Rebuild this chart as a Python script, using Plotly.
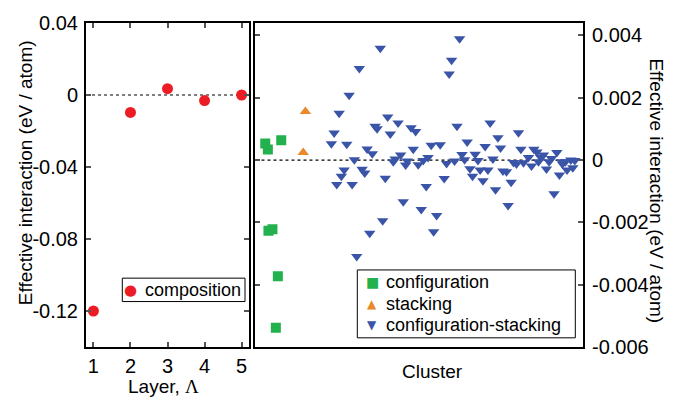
import plotly.graph_objects as go

# ---- Left panel: composition vs layer ----
layers = [1, 2, 3, 4, 5]
composition = [-0.12, -0.0097, 0.0035, -0.0031, 0.0]

# ---- Right panel: cluster interactions (eV / atom) ----
config_x = [4.9, 6.2, 12.9, 6.5, 8.5, 11.2, 10.2]
config_y = [0.00053, 0.00034, 0.00064, -0.00227, -0.00222, -0.00373, -0.00538]

stack_x = [25.0, 23.9]
stack_y = [0.00156, 0.00024]

cs_x = [102.2, 62.5, 52.0, 98.2, 97.0, 46.9, 41.9, 66.2, 71.4, 117.5,
        59.9, 60.9, 77.9, 80.2, 100.9, 39.4, 131.7, 67.5, 121.4, 38.0,
        45.7, 106.0, 92.5, 88.0, 115.0, 55.9, 79.0, 122.7, 132.9, 139.4,
        140.9, 150.9, 58.5, 72.7, 103.4, 110.0, 144.2, 86.4, 49.5, 69.9,
        69.0, 84.0, 76.0, 99.7, 104.7, 111.4, 118.9, 136.7, 142.9, 148.2,
        95.7, 75.2, 81.5, 129.2, 130.7, 134.2, 141.7, 147.0, 153.5, 155.2,
        157.9, 159.9, 138.2, 153.7, 44.4, 53.4, 54.7, 107.4, 112.5, 116.4,
        123.9, 125.7, 145.7, 156.0, 158.9, 43.0, 65.0, 94.5, 108.7, 152.2,
        40.7, 48.4, 85.5, 113.9, 128.0, 120.2, 149.5, 74.0, 83.0, 90.7,
        63.7, 57.2, 89.2, 50.7, 126.5]
cs_y = [3.892, 3.587, 2.940, 3.206, 2.762, 2.083, 1.502, 1.384, 1.194, 1.194,
        1.089, 1.003, 1.035, 0.921, 1.089, 0.867, 0.876, 0.835, 0.717, 0.527,
        0.508, 0.581, 0.495, 0.476, 0.432, 0.359, 0.349, 0.390, 0.349, 0.349,
        0.263, 0.241, 0.200, 0.159, 0.178, 0.190, 0.159, 0.083, 0.010, 0.032,
        -0.054, -0.013, -0.032, -0.032, 0.010, -0.013, 0.032, 0.083, 0.083, 0.051,
        -0.108, -0.159, -0.149, -0.076, -0.127, -0.086, -0.054, -0.054, -0.054, -0.054,
        0.000, -0.013, -0.190, -0.127, -0.317, -0.298, -0.413, -0.276, -0.317, -0.317,
        -0.349, -0.371, -0.286, -0.317, -0.244, -0.521, -0.584, -0.594, -0.521, -0.476,
        -0.784, -0.784, -0.848, -0.667, -0.711, -0.952, -1.079, -1.340, -1.587, -1.778,
        -1.949, -2.349, -2.298, -3.092, -1.460]
cs_y = [v * 1e-3 for v in cs_y]

left_ticks = [0.04, 0.0, -0.04, -0.08, -0.12]
left_tick_text = ["0.04", "0", "-0.04", "-0.08", "-0.12"]
right_ticks = [0.004, 0.002, 0.0, -0.002, -0.004, -0.006]
right_tick_text = ["0.004", "0.002", "0", "-0.002", "-0.004", "-0.006"]

FONT = "Liberation Sans, Arial, Helvetica, sans-serif"
GLYPH_FONT = "DejaVu Sans"
RED = "#ec1c24"
GREEN = "#22b14c"
ORANGE = "#e8892a"
BLUE = "#3a55a8"

fig = go.Figure()
fig.add_trace(go.Scatter(x=layers, y=composition, mode="markers", name="composition",
                         marker=dict(color=RED, size=11, symbol="circle"),
                         xaxis="x", yaxis="y", showlegend=False))
fig.add_trace(go.Scatter(x=config_x, y=config_y, mode="markers", name="configuration",
                         marker=dict(color=GREEN, size=10, symbol="square"),
                         xaxis="x2", yaxis="y2", showlegend=False))
fig.add_trace(go.Scatter(x=stack_x, y=stack_y, mode="markers", name="stacking",
                         marker=dict(color=ORANGE, size=10, symbol="triangle-up"),
                         xaxis="x2", yaxis="y2", showlegend=False))
fig.add_trace(go.Scatter(x=cs_x, y=cs_y, mode="markers", name="configuration-stacking",
                         marker=dict(color=BLUE, size=10, symbol="triangle-down"),
                         xaxis="x2", yaxis="y2", showlegend=False))

axis_common = dict(showline=True, linecolor="black", linewidth=2, showgrid=False,
                   zeroline=False, ticks="inside", ticklen=5, tickcolor="#555",
                   tickwidth=1.5, tickfont=dict(family=FONT, size=20, color="black"))

# legend drawn as boxed key (paper coordinates of plot area)
def px_x(p):
    return (p - 86) / 497.0

def px_y(p):
    return (347 - p) / 328.0

legend_entries = [
    # (glyph, colour, glyph size, label, row y px, glyph x px, text x px)
    ("●", RED, 15, "composition", 289.0, 130.7, 143.0),
    ("■", GREEN, 14, "configuration", 280.7, 372.0, 384.0),
    ("▲", ORANGE, 12, "stacking", 303.3, 372.0, 384.0),
    ("▼", BLUE, 12, "configuration-stacking", 324.3, 372.0, 384.0),
]

annotations = [
    dict(text="Effective interaction (eV / atom)", xref="paper", yref="paper",
         x=-0.1227, y=0.5366, textangle=-90, showarrow=False,
         xanchor="center", yanchor="middle", font=dict(family=FONT, size=19)),
    dict(text="Effective interaction (eV / atom)", xref="paper", yref="paper",
         x=1.1479, y=0.4817, textangle=90, showarrow=False,
         xanchor="center", yanchor="middle", font=dict(family=FONT, size=19)),
    dict(text="Cluster", xref="paper", yref="paper", x=0.6972, y=-0.0753,
         showarrow=False, xanchor="center", yanchor="middle",
         font=dict(family=FONT, size=19)),
    dict(text="Layer, <span style='font-family:Liberation Serif'>Λ</span>",
         xref="paper", yref="paper", x=0.156, y=-0.122,
         showarrow=False, xanchor="center", yanchor="middle",
         font=dict(family=FONT, size=19)),
]
for glyph, col, gsize, label, ry, gx, tx in legend_entries:
    annotations.append(dict(text=glyph, xref="paper", yref="paper", x=px_x(gx), y=px_y(ry),
                            showarrow=False, xanchor="center", yanchor="middle",
                            font=dict(family=GLYPH_FONT, size=gsize, color=col)))
    annotations.append(dict(text=label, xref="paper", yref="paper", x=px_x(tx), y=px_y(ry),
                            showarrow=False, xanchor="left", yanchor="middle",
                            font=dict(family=FONT, size=18, color="black")))

DASH = dict(color="black", width=1.2, dash="3px,3px")
shapes = [
    dict(type="line", xref="x domain", yref="y", x0=0, x1=1, y0=0, y1=0,
         line=DASH, layer="below"),
    dict(type="line", xref="x2 domain", yref="y2", x0=0, x1=1, y0=0, y1=0,
         line=DASH, layer="below"),
    dict(type="rect", xref="paper", yref="paper",
         x0=px_x(122.3), x1=px_x(245.0), y0=px_y(301.0), y1=px_y(277.3),
         line=dict(color="black", width=1), fillcolor="white", layer="above"),
    dict(type="rect", xref="paper", yref="paper",
         x0=px_x(357.3), x1=px_x(575.3), y0=px_y(337.7), y1=px_y(269.0),
         line=dict(color="black", width=1), fillcolor="white", layer="above"),
]

fig.update_layout(
    width=674, height=398,
    margin=dict(l=86, r=91, t=19, b=51),
    paper_bgcolor="white", plot_bgcolor="white",
    font=dict(family=FONT, size=19, color="black"),
    showlegend=False,
    xaxis=dict(domain=[0, 0.328], range=[0.8, 5.2], tickvals=layers,
               mirror="ticks", ticklabelstandoff=0, **axis_common),
    yaxis=dict(anchor="x", range=[-0.14, 0.04], tickvals=left_ticks,
               ticktext=left_tick_text, mirror="ticks", ticklabelstandoff=2, **axis_common),
    xaxis2=dict(domain=[0.341, 1], range=[0, 164], showticklabels=False,
                showline=True, linecolor="black", linewidth=2, mirror=True,
                showgrid=False, zeroline=False, ticks=""),
    yaxis2=dict(anchor="x2", side="right", range=[-0.006, 0.0044], tickvals=right_ticks,
                ticktext=right_tick_text, mirror="ticks", ticklabelstandoff=3, **axis_common),
    shapes=shapes,
    annotations=annotations,
)

fig.write_html("out.html")
